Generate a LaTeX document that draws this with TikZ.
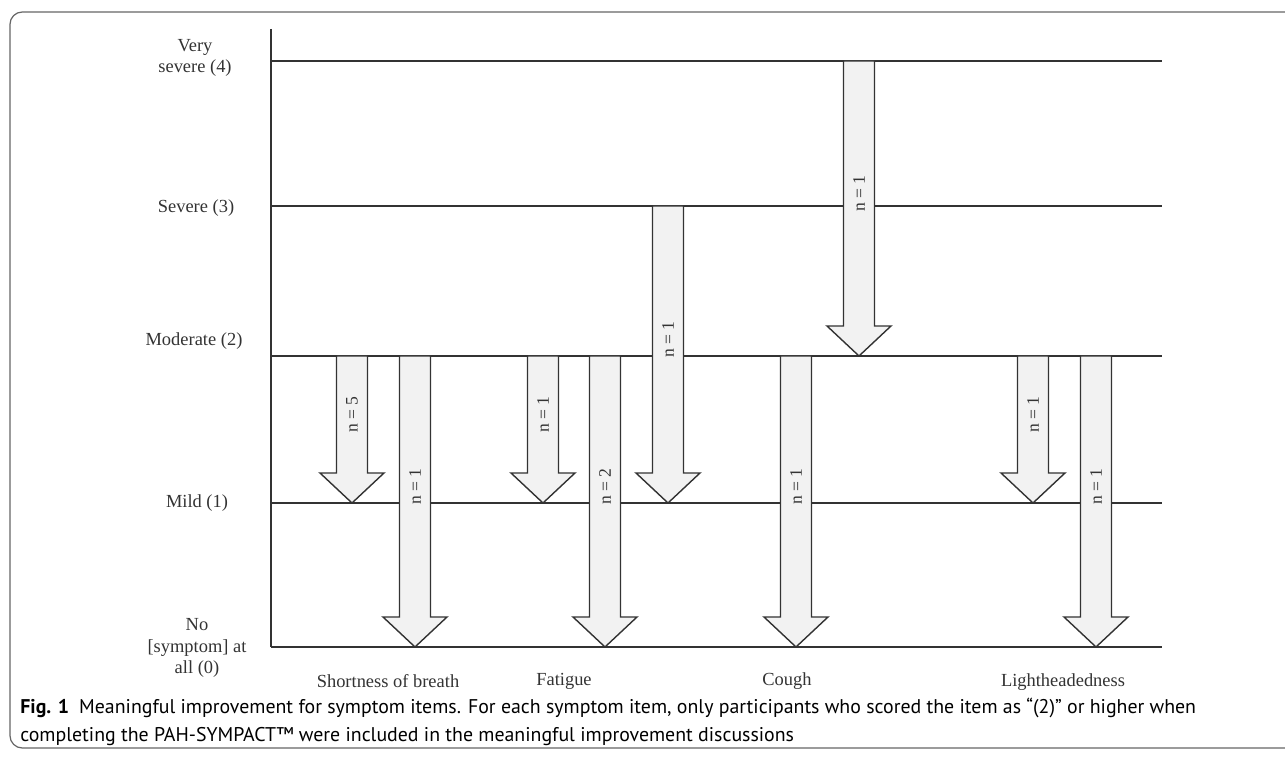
\documentclass[tikz,border=0pt]{standalone}
\usepackage{fontspec}
\setmainfont{Liberation Serif}
\newfontfamily\capfont{PT Sans}
\usepackage{xcolor}
\definecolor{arrowfill}{HTML}{F2F2F2}
\definecolor{inkgray}{HTML}{333333}

\begin{document}
\begin{tikzpicture}[
  x=0.02cm, y=-0.02cm,
  level/.style={font=\fontsize{10.5}{12}\selectfont, align=center, text=inkgray},
  item/.style={font=\fontsize{10.5}{12}\selectfont, text=inkgray},
  count/.style={font=\fontsize{10}{12}\selectfont, rotate=90, text=inkgray},
  captext/.style={anchor=base west, inner sep=0pt, font=\capfont\fontsize{11.3}{15}\selectfont},
  rule/.style={draw=inkgray, line width=0.8pt},
  bigarrow/.style={draw=inkgray, fill=arrowfill, line width=0.8pt, line join=miter}
]
\useasboundingbox (0,0) rectangle (1285,759);
% frame of the figure box
\draw[draw=black!60, line width=0.7pt, rounded corners=7pt] (10,12) rectangle (1320,748);

% score levels
\node[level] (l4) at (195,58) {Very\\severe (4)};
\node[level] (l3) at (196,208) {Severe (3)};
\node[level] (l2) at (194,341) {Moderate (2)};
\node[level] (l1) at (197,503) {Mild (1)};
\node[level] (l0) at (197,648) {No\\{[symptom]} at\\all (0)};

\coordinate (axtop) at (271,29);
\coordinate (axbot) at (271,647);
\draw[rule] (axtop) -- (axbot);
\foreach \y/\n in {61/4, 206/3, 356/2, 503/1, 647/0}
  \draw[rule] (271,\y) coordinate (s\n) -- (1162,\y) coordinate (e\n);

% improvement arrows: x / from / to / label
\foreach \x/\ya/\yb/\t [count=\i] in {352/356/503/5, 415/356/647/1, 543/356/503/1,
    605/356/647/2, 668/206/503/1, 859/61/356/1, 796/356/647/1, 1033/356/503/1, 1096/356/647/1}{
  \draw[bigarrow] (\x-15.5,\ya) -- (\x-15.5,\yb-30) -- (\x-32,\yb-30) -- (\x,\yb)
    -- (\x+32,\yb-30) -- (\x+15.5,\yb-30) -- (\x+15.5,\ya) -- cycle;
  \node[count] (n\i) at (\x,{(\ya+\yb-30)/2}) {n = \t};
}

% symptom items
\node[item] (sob) at (388,681) {Shortness of breath};
\node[item] (fat) at (564,681) {Fatigue};
\node[item] (cou) at (787,681) {Cough};
\node[item] (lig) at (1063,682) {Lightheadedness};

% caption
\node[captext] (cap1) at (20,714) {\textbf{Fig. 1}\enspace Meaningful improvement for symptom items. For each symptom item, only participants who scored the item as “(2)” or higher when};
\node[captext] (cap2) at (20,742) {completing the PAH-SYMPACT™ were included in the meaningful improvement discussions};
\end{tikzpicture}
\end{document}
